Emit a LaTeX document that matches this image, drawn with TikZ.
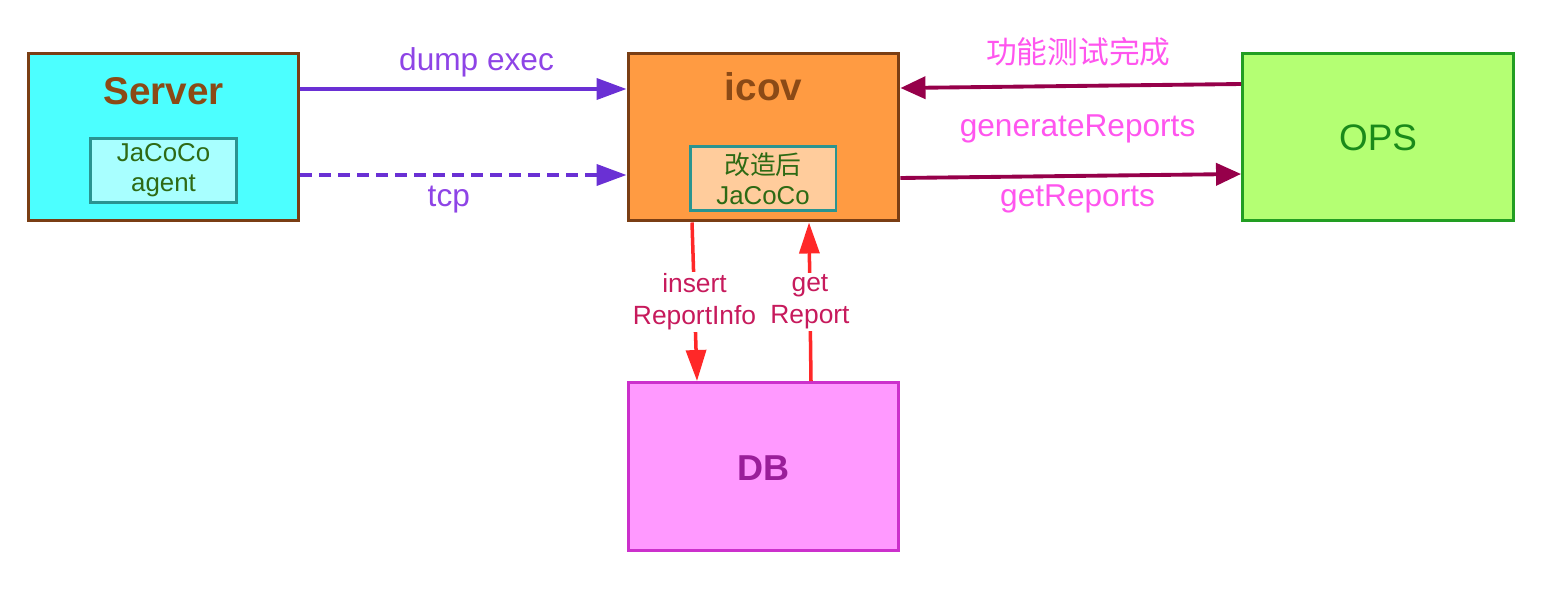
\documentclass[tikz,border=0pt]{standalone}
\usepackage{fontspec}
\usepackage{tikz}
\usetikzlibrary{arrows.meta}
\setmainfont{Liberation Sans}
\newfontfamily\cjk{Noto Sans CJK SC}

\definecolor{servfill}{HTML}{4CFFFF}
\definecolor{servdraw}{HTML}{7A3E14}
\definecolor{servtxt}{HTML}{8B4A16}
\definecolor{agentfill}{HTML}{A8FFFF}
\definecolor{tealc}{HTML}{2A9490}
\definecolor{innertxt}{HTML}{2E6A14}
\definecolor{icovfill}{HTML}{FF9B42}
\definecolor{icovin}{HTML}{FFCC9C}
\definecolor{opsfill}{HTML}{B4FF73}
\definecolor{opsdraw}{HTML}{229E22}
\definecolor{opstxt}{HTML}{1A8A1A}
\definecolor{dbfill}{HTML}{FF99FF}
\definecolor{dbdraw}{HTML}{CC30CC}
\definecolor{dbtxt}{HTML}{9A1E9A}
\definecolor{purp}{HTML}{6A30D4}
\definecolor{purpt}{HTML}{8E44E6}
\definecolor{maroon}{HTML}{96004A}
\definecolor{pinkt}{HTML}{FF55EE}
\definecolor{redc}{HTML}{FF2828}
\definecolor{crim}{HTML}{C71A5C}

\begin{document}
\begin{tikzpicture}[x=0.02cm, y=-0.02cm,
    box/.style={draw, line width=1.7pt, minimum width=5.42cm, minimum height=3.36cm, inner sep=0pt},
    inbox/.style={draw=tealc, line width=1.7pt, minimum width=2.92cm, minimum height=1.28cm,
        inner sep=0pt, align=center, text=innertxt, font=\fontsize{14.7}{17}\selectfont},
    title/.style={anchor=base, font=\fontsize{22}{26}\selectfont\bfseries},
    lbl/.style={anchor=base, font=\fontsize{18}{22}\selectfont},
    vlbl/.style={fill=white, inner sep=1pt, align=center, text=crim, font=\fontsize{15}{18}\selectfont},
    flow/.style={line width=2.2pt, -{Triangle[length=0.6cm, width=0.42cm]}},
    back/.style={line width=2.2pt, maroon, -{Triangle[length=0.5cm, width=0.44cm]}},
    dbflow/.style={line width=2pt, redc, -{Triangle[length=0.62cm, width=0.4cm]}}
]
    \useasboundingbox (0,0) rectangle (1564,598);

    % boxes
    \node[box, draw=servdraw, fill=servfill] (server) at (163.5,137) {};
    \node[box, draw=servdraw, fill=icovfill] (icov) at (763.5,137) {};
    \node[box, draw=opsdraw, fill=opsfill] (ops) at (1378,137) {};
    \node[box, draw=dbdraw, fill=dbfill] (db) at (763.5,466.5) {};

    \node[title, text=servtxt] (srvname) at (163.5,105) {Server};
    \node[title, text=servtxt] (icovname) at (763.5,101) {icov};
    \node[anchor=base, text=opstxt, font=\fontsize{21}{24}\selectfont] (opsname) at (1378,150) {OPS};
    \node[anchor=base, text=dbtxt, font=\fontsize{20.5}{24}\selectfont\bfseries] (dbname) at (763.5,480) {DB};

    \node[inbox, fill=agentfill] (agent) at (163.5,170.5) {JaCoCo\\agent};
    \node[inbox, fill=icovin] (jacoco) at (763,178.5) {{\cjk 改造后}\\JaCoCo};

    % server -> icov
    \draw[flow, purp] ([yshift=0.96cm]server.east) -- node[lbl, text=purpt, pos=0.54, yshift=0.38cm] {dump exec} ([yshift=0.96cm]icov.west);
    \draw[flow, purp, dash pattern=on 6.8pt off 4pt] ([yshift=-0.76cm]server.east) -- node[lbl, text=purpt, pos=0.455, yshift=-0.64cm] {tcp} ([yshift=-0.76cm]icov.west);

    % ops <-> icov
    \draw[back] ([yshift=1.06cm]ops.west) -- node[anchor=base, text=pinkt, font=\cjk\fontsize{17.5}{20}\selectfont, pos=0.478, yshift=0.44cm] {功能测试完成} ([yshift=0.98cm]icov.east);
    \draw[back] ([yshift=-0.82cm]icov.east) -- node[lbl, text=pinkt, pos=0.52, yshift=0.78cm] {generateReports}
        node[lbl, text=pinkt, pos=0.52, yshift=-0.62cm] {getReports} ([yshift=-0.74cm]ops.west);

    % icov <-> db
    \draw[dbflow] ([xshift=-1.43cm]icov.south) -- node[vlbl, midway] {insert\\ReportInfo} ([xshift=-1.33cm]db.north);
    \draw[dbflow] ([xshift=0.95cm]db.north) -- node[vlbl, midway] {get\\Report} ([xshift=0.91cm]icov.south);
\end{tikzpicture}
\end{document}
